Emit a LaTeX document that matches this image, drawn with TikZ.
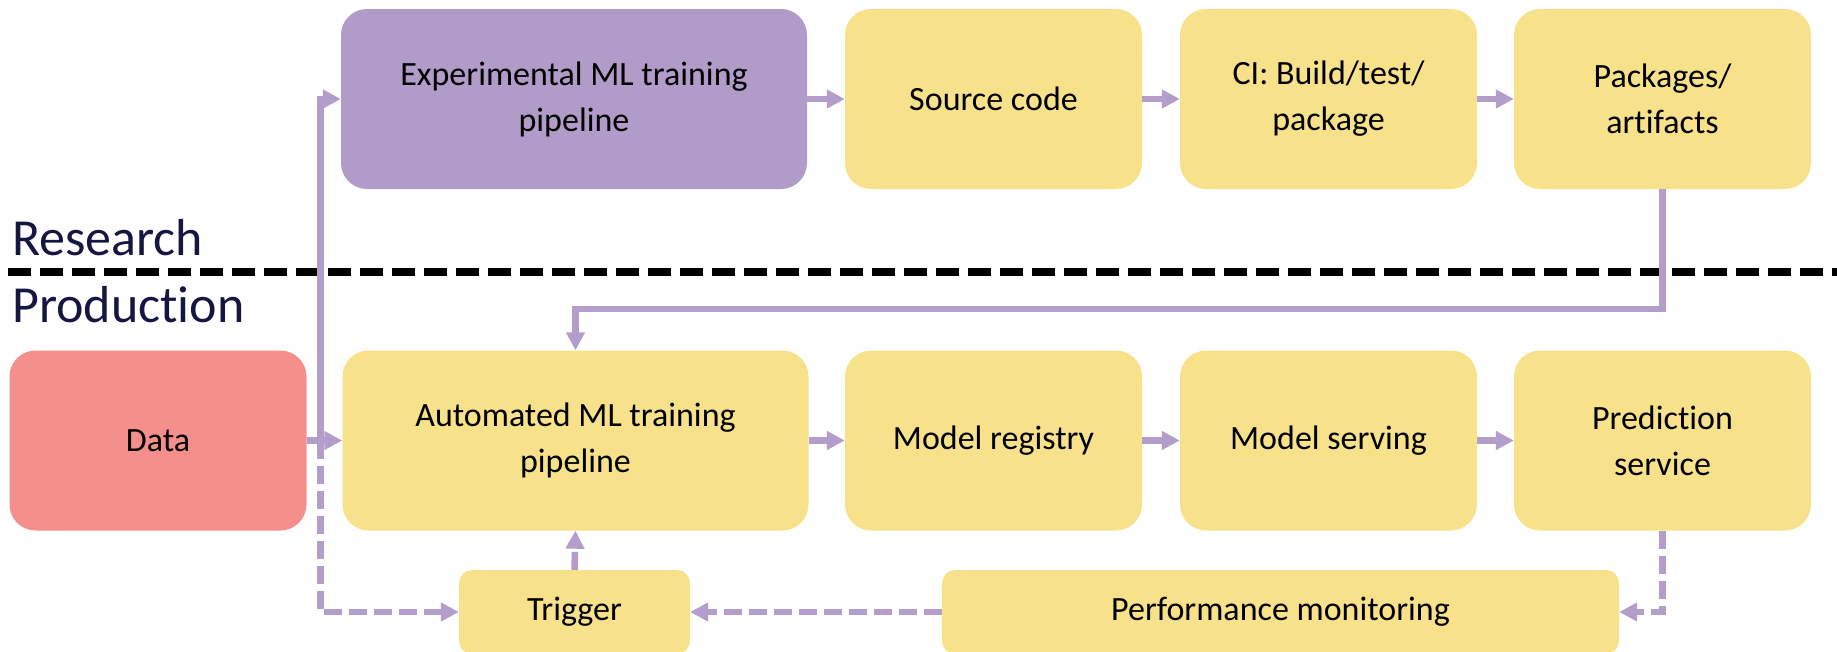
\documentclass[tikz,border=0pt]{standalone}
\usepackage{fontspec}
\setmainfont{Carlito}[Ligatures={NoCommon,NoRare}]
\usetikzlibrary{arrows.meta}
\definecolor{boxyellow}{RGB}{247,226,139}
\definecolor{boxpurple}{RGB}{177,155,201}
\definecolor{boxpink}{RGB}{245,143,139}
\definecolor{flow}{RGB}{178,157,203}
\definecolor{labelnavy}{RGB}{22,22,66}
\begin{document}
\begin{tikzpicture}[x=1pt,y=-1pt,
  stage/.style={rounded corners=26pt, inner sep=0pt, align=center,
    font=\fontsize{34}{46}\selectfont, text=black, fill=boxyellow},
  wide/.style={stage, minimum width=466pt, minimum height=180pt},
  narrow/.style={stage, minimum width=297pt, minimum height=180pt},
  lowbox/.style={stage, rounded corners=13pt, minimum height=84pt},
  flowarrow/.style={draw=flow, line width=6.5pt,
    -{Triangle[length=18pt,width=18pt]}},
  flowdashed/.style={flowarrow, dash pattern=on 18pt off 7pt},
  zonelabel/.style={anchor=base west, inner sep=0pt, text=labelnavy,
    font=\fontsize{52}{60}\selectfont},
  divider/.style={draw=black, line width=8pt, dash pattern=on 23pt off 9pt}
]
\useasboundingbox (0,0) rectangle (1837,651);
\clip (0,0) rectangle (1837,651);

% research stages
\node[wide, fill=boxpurple] (exp) at (574,99) {Experimental ML training\\pipeline};
\node[narrow] (src) at (993.5,99) {Source code};
\node[narrow] (ci)  at (1328.5,99) {CI: Build/test/\\package};
\node[narrow] (pkg) at (1662.5,99) {Packages/\\artifacts};

% zone labels and separator
\node[zonelabel] (research) at (12,255) {Research};
\node[zonelabel] (production) at (12,322) {Production};
\coordinate (divl) at (8,272);
\coordinate (divr) at (1837,272);
\draw[divider] (divl) -- (divr);

% production stages
\node[narrow, fill=boxpink] (data) at (158,440.5) {Data};
\node[wide] (auto) at (575.5,440.5) {Automated ML training\\pipeline};
\node[narrow] (reg)  at (993.5,440.5) {Model registry};
\node[narrow] (serv) at (1328.5,440.5) {Model serving};
\node[narrow] (pred) at (1662.5,440.5) {Prediction\\service};
\node[lowbox, minimum width=231pt] (trig) at (574.5,612) {Trigger};
\node[lowbox, minimum width=677pt] (perf) at (1280.5,612) {Performance monitoring};

% research flow
\draw[flowarrow] (exp.east) -- (src.west);
\draw[flowarrow] (src.east) -- (ci.west);
\draw[flowarrow] (ci.east) -- (pkg.west);

% packages feed the automated pipeline
\draw[flowarrow] (pkg.south) -- ++(0,120) -| (auto.north);

% data distribution
\coordinate (split) at (320.5,440.5);
\draw[flowarrow] (data.east) -- (auto.west);
\draw[flowarrow] (split) |- (exp.west);
\draw[flowdashed] (split) |- (trig.west);

% production flow
\draw[flowarrow] (auto.east) -- (reg.west);
\draw[flowarrow] (reg.east) -- (serv.west);
\draw[flowarrow] (serv.east) -- (pred.west);

% monitoring loop
\draw[flowdashed] (pred.south) |- (perf.east);
\draw[flowdashed] (perf.west) -- (trig.east);
\draw[flowdashed] (trig.north) -- (auto.south);
\end{tikzpicture}
\end{document}
